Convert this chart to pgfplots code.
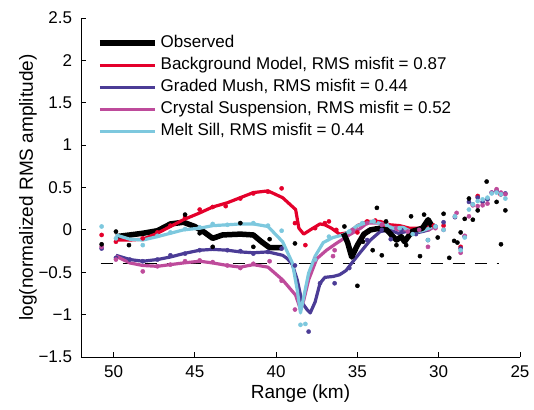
\documentclass[border=0pt]{standalone}
\usepackage{fontspec}
\setmainfont{Liberation Sans}
\usepackage{pgfplots}
\pgfplotsset{compat=1.18}
\definecolor{cred}{RGB}{228,0,43}
\definecolor{cblue}{RGB}{75,60,150}
\definecolor{cmag}{RGB}{190,75,155}
\definecolor{clb}{RGB}{125,200,222}
\begin{document}
\fontsize{17}{20}\selectfont
\begin{tikzpicture}
\path[use as bounding box] (-81pt,-52pt) rectangle (453pt,357pt);
\begin{axis}[
 scale only axis, width=439pt, height=339pt,
 at={(0,0)}, anchor=south west,
 xmin=25, xmax=52, ymin=-1.5, ymax=2.5, x dir=reverse,
 axis x line*=bottom, axis y line*=left,
 xtick={25,30,35,40,45,50}, xticklabels={25,30,35,40,45,50},
 ytick={-1.5,-1,-0.5,0,0.5,1,1.5,2,2.5},
 yticklabels={−1.5,−1,−0.5,0,0.5,1,1.5,2,2.5},
 tick align=inside, major tick length=5pt,
 tick style={black, line width=0.8pt}, axis line style={line width=0.8pt},
 xticklabel style={font=\fontsize{17}{20}\selectfont, yshift=-3pt},
 yticklabel style={font=\fontsize{17}{20}\selectfont, xshift=-3pt},
 xlabel={Range (km)}, ylabel={log(normalized RMS amplitude)},
 xlabel style={font=\fontsize{19}{22}\selectfont, at={(axis description cs:0.5,-0.109)}, anchor=center},
 ylabel style={font=\fontsize{19}{22}\selectfont, at={(axis description cs:-0.1207,0.5)}, anchor=center},
 clip=false,
 legend cell align=left,
 legend style={at={(axis description cs:0,1)}, anchor=north west, xshift=13pt, yshift=-12pt,
   draw=none, fill=none, font=\fontsize{17}{20}\selectfont, row sep=0pt,
   nodes={text height=12pt, text depth=4pt, inner sep=3pt, anchor=west}},
 legend image code/.code={\draw[#1] (0pt,0pt) -- (55pt,0pt);},
 every axis plot/.append style={line join=round},
]
% dashed reference line
\addplot[black, line width=1.1pt, dash pattern=on 12pt off 10pt, forget plot] coordinates {(50.8,-0.4) (26.3,-0.4)};
% dots: red
\addplot[only marks, mark=*, mark size=2.1pt, color=cred, forget plot] coordinates {
(50.73,-0.06) (49.85,-0.14) (48.2,-0.1) (47.3,-0.03) (46.5,0.05) (45.6,0.15) (44.7,0.24) (43.9,0.27) (43.1,0.28) (42.2,0.37) (41.4,0.43) (40.5,0.45) (39.66,0.49) (38.84,0.08) (38.2,-0.18) (37.6,0.02) (37.0,0.08) (36.75,0.1) (36.3,0.0) (35.0,-0.03) (34.4,0.1) (33.9,0.11) (33.3,0.06) (30.3,0.05) (29.7,0.05) (28.65,-0.2) (27.6,0.4) (26.2,0.42)};
% dots: graded mush
\addplot[only marks, mark=*, mark size=2.1pt, color=cblue, forget plot] coordinates {
(50.73,-0.22) (49.85,-0.33) (49.0,-0.35) (48.2,-0.37) (47.3,-0.35) (46.5,-0.3) (45.6,-0.28) (44.7,-0.24) (43.9,-0.22) (43,-0.24) (42.2,-0.25) (41.4,-0.28) (40.5,-0.26) (39.66,-0.22) (38.84,-0.42) (38.0,-1.2) (37.3,-0.63) (36.4,-0.63) (35.5,-0.45) (34.4,-0.12) (33.5,0.0) (32.95,-0.11) (32.3,0.0) (31.4,-0.05) (30.66,-0.12) (30.2,0.04) (29.7,0.09) (29.0,0.15) (28.65,-0.22) (28.4,-0.08) (28.14,0.33) (27.9,0.3) (27.6,0.38) (27.3,0.33) (27.0,0.36) (26.74,0.44) (26.44,0.46) (26.17,0.42) (25.9,0.43)};
% dots: crystal suspension
\addplot[only marks, mark=*, mark size=2.1pt, color=cmag, forget plot] coordinates {
(50.73,-0.2) (49.85,-0.35) (48.2,-0.49) (47.3,-0.43) (46.5,-0.41) (45.6,-0.37) (44.7,-0.36) (43.9,-0.38) (43,-0.42) (42.2,-0.45) (41.4,-0.4) (40.4,-0.37) (39.66,-0.6) (38.84,-0.94) (37.6,-0.35) (36.5,-0.31) (36.4,-0.24) (35.3,0.0) (34.4,0.08) (33.5,0.06) (32.6,0.02) (31.9,-0.02) (31.2,0.0) (30.66,-0.2) (30.2,0.02) (29.7,0.0) (29.0,0.16) (28.9,0.2) (28.65,-0.27) (28.4,-0.07) (28.14,0.16) (27.9,0.29) (27.6,0.28) (27.3,0.29) (27.0,0.31) (26.74,0.44) (26.44,0.48) (26.17,0.44) (25.9,0.42)};
% dots: melt sill
\addplot[only marks, mark=*, mark size=2.1pt, color=clb, forget plot] coordinates {
(50.73,0.04) (49.85,-0.1) (48.2,-0.18) (47.3,-0.07) (46.5,-0.03) (45.6,0.01) (44.7,0.03) (43.9,0.07) (43,0.06) (42.2,0.08) (41.4,0.08) (40.5,0.05) (39.66,-0.01) (38.5,-1.12) (38.2,-1.11) (37.6,-0.35) (36.75,-0.08) (35.5,-0.02) (34.7,0.08) (34.0,0.1) (33.2,0.06) (32.4,0.02) (31.6,-0.05) (30.66,-0.12) (30.2,0.04) (29.7,0.0) (29.0,0.16) (28.65,-0.24) (28.4,-0.09) (28.14,0.24) (27.9,0.3) (27.6,0.34) (27.3,0.36) (27.0,0.38) (26.74,0.43) (26.44,0.44) (26.17,0.42) (25.9,0.37)};
% dots: observed
\addplot[only marks, mark=*, mark size=2.1pt, color=black, forget plot] coordinates {
(50.73,-0.17) (49.85,-0.02) (49.05,-0.18) (45.6,0.18) (44.7,-0.04) (43.9,-0.2) (42.2,0.08) (41.4,-0.2) (40.4,-0.11) (38.84,-0.16) (35.8,0.04) (35.0,-0.66) (34.66,-0.14) (34.06,-0.24) (33.8,0.26) (33.5,-0.3) (33.24,0.1) (32.6,-0.18) (32.0,-0.18) (31.7,0.16) (31.15,-0.31) (30.9,0.18) (30.06,-0.09) (29.7,0.19) (29.35,-0.33) (29.05,-0.13) (28.85,-0.15) (28.65,-0.03) (28.4,0.13) (28.14,0.37) (27.9,0.12) (27.6,0.23) (27.05,0.57) (26.44,0.33) (26.17,-0.17) (25.9,0.23)};
% observed line
\addplot[black, line width=5.5pt] coordinates {
(49.85,-0.08) (49,-0.06) (48.2,-0.04) (47.3,-0.01) (46.5,0.07) (45.7,0.09) (45,0.04) (44.4,-0.03) (43.9,-0.1) (43.3,-0.06) (42.2,-0.05) (41.4,-0.06) (40.9,-0.14) (40.4,-0.21) (39.6,-0.21)};
\addlegendentry{Observed}
\addplot[cred, line width=3.2pt] coordinates {
(49.85,-0.12) (49,-0.12) (48.2,-0.11) (47.3,-0.04) (46.5,0.04) (45.7,0.12) (44.7,0.2) (43.9,0.27) (43,0.32) (42.2,0.38) (41.4,0.44) (40.5,0.46) (39.6,0.38) (38.8,0.24) (38.6,0.02) (38.3,-0.05) (37.9,0.0) (37.3,0.07) (37.0,0.06) (36.6,0.02) (36.1,-0.05) (35.5,-0.03) (35.0,0.05) (34.4,0.1) (33.6,0.1) (33.0,0.06) (32.4,0.05) (31.8,0.02) (31.2,0.02) (30.4,0.05)};
\addlegendentry{Background Model, RMS misfit = 0.87}
\addplot[cblue, line width=3.2pt] coordinates {
(49.85,-0.3) (49,-0.35) (48.2,-0.37) (47.3,-0.35) (46.5,-0.32) (45.7,-0.28) (44.7,-0.24) (43.9,-0.23) (43,-0.24) (42.2,-0.26) (41.4,-0.27) (40.5,-0.26) (39.6,-0.3) (39.3,-0.34) (39,-0.41) (38.7,-0.59) (38.4,-0.86) (38.1,-0.94) (37.9,-0.98) (37.6,-0.85) (37.3,-0.63) (37.0,-0.56) (36.5,-0.55) (36.1,-0.53) (35.7,-0.48) (35.3,-0.38) (34.8,-0.26) (34.2,-0.12) (33.6,-0.02) (33.0,0.0) (32.5,-0.04) (32.0,-0.02) (31.5,-0.04) (31.0,-0.02) (30.6,0.0) (30.3,0.04)};
\addlegendentry{Graded Mush, RMS misfit = 0.44}
\addplot[cmag, line width=3.2pt] coordinates {
(49.85,-0.31) (49,-0.39) (48.2,-0.42) (47.3,-0.43) (46.5,-0.41) (45.7,-0.39) (44.7,-0.37) (43.9,-0.39) (43,-0.42) (42.2,-0.44) (41.4,-0.41) (40.5,-0.44) (39.6,-0.59) (38.8,-0.77) (38.5,-0.94) (38.3,-0.83) (38.0,-0.59) (37.5,-0.34) (36.9,-0.24) (36.3,-0.16) (35.5,-0.06) (34.8,0.02) (34.4,0.08) (33.6,0.08) (33.0,0.04) (32.5,0.0) (32.0,0.0) (31.5,-0.02) (31.0,0.0) (30.6,0.0) (30.3,0.04)};
\addlegendentry{Crystal Suspension, RMS misfit = 0.52}
\addplot[clb, line width=3.2pt] coordinates {
(49.85,-0.06) (49,-0.11) (48.2,-0.12) (47.3,-0.08) (46.5,-0.04) (45.7,0.0) (44.7,0.02) (43.9,0.05) (43,0.06) (42.2,0.07) (41.4,0.07) (40.5,0.04) (39.6,-0.14) (39,-0.39) (38.7,-0.71) (38.5,-0.98) (38.3,-0.79) (38.0,-0.51) (37.6,-0.31) (37.1,-0.15) (36.5,-0.09) (35.9,-0.06) (35.5,-0.02) (35.0,0.05) (34.4,0.09) (34.0,0.1) (33.4,0.06) (32.8,0.02) (32.2,0.03) (31.6,-0.03) (31.0,-0.01) (30.6,0.02) (30.3,0.05)};
\addlegendentry{Melt Sill, RMS misfit = 0.44}
% observed line, second segment
\addplot[black, line width=5.5pt, forget plot] coordinates {
(35.85,-0.04) (35.6,-0.15) (35.35,-0.32) (35.0,-0.18) (34.6,-0.05) (34.2,0.0) (33.6,0.02) (33.2,0.0) (32.9,-0.06) (32.6,-0.12) (32.3,-0.08) (32.1,-0.14) (31.65,-0.02) (31.0,0.02) (30.65,0.12) (30.4,0.04)};
\end{axis}
\end{tikzpicture}
\end{document}
